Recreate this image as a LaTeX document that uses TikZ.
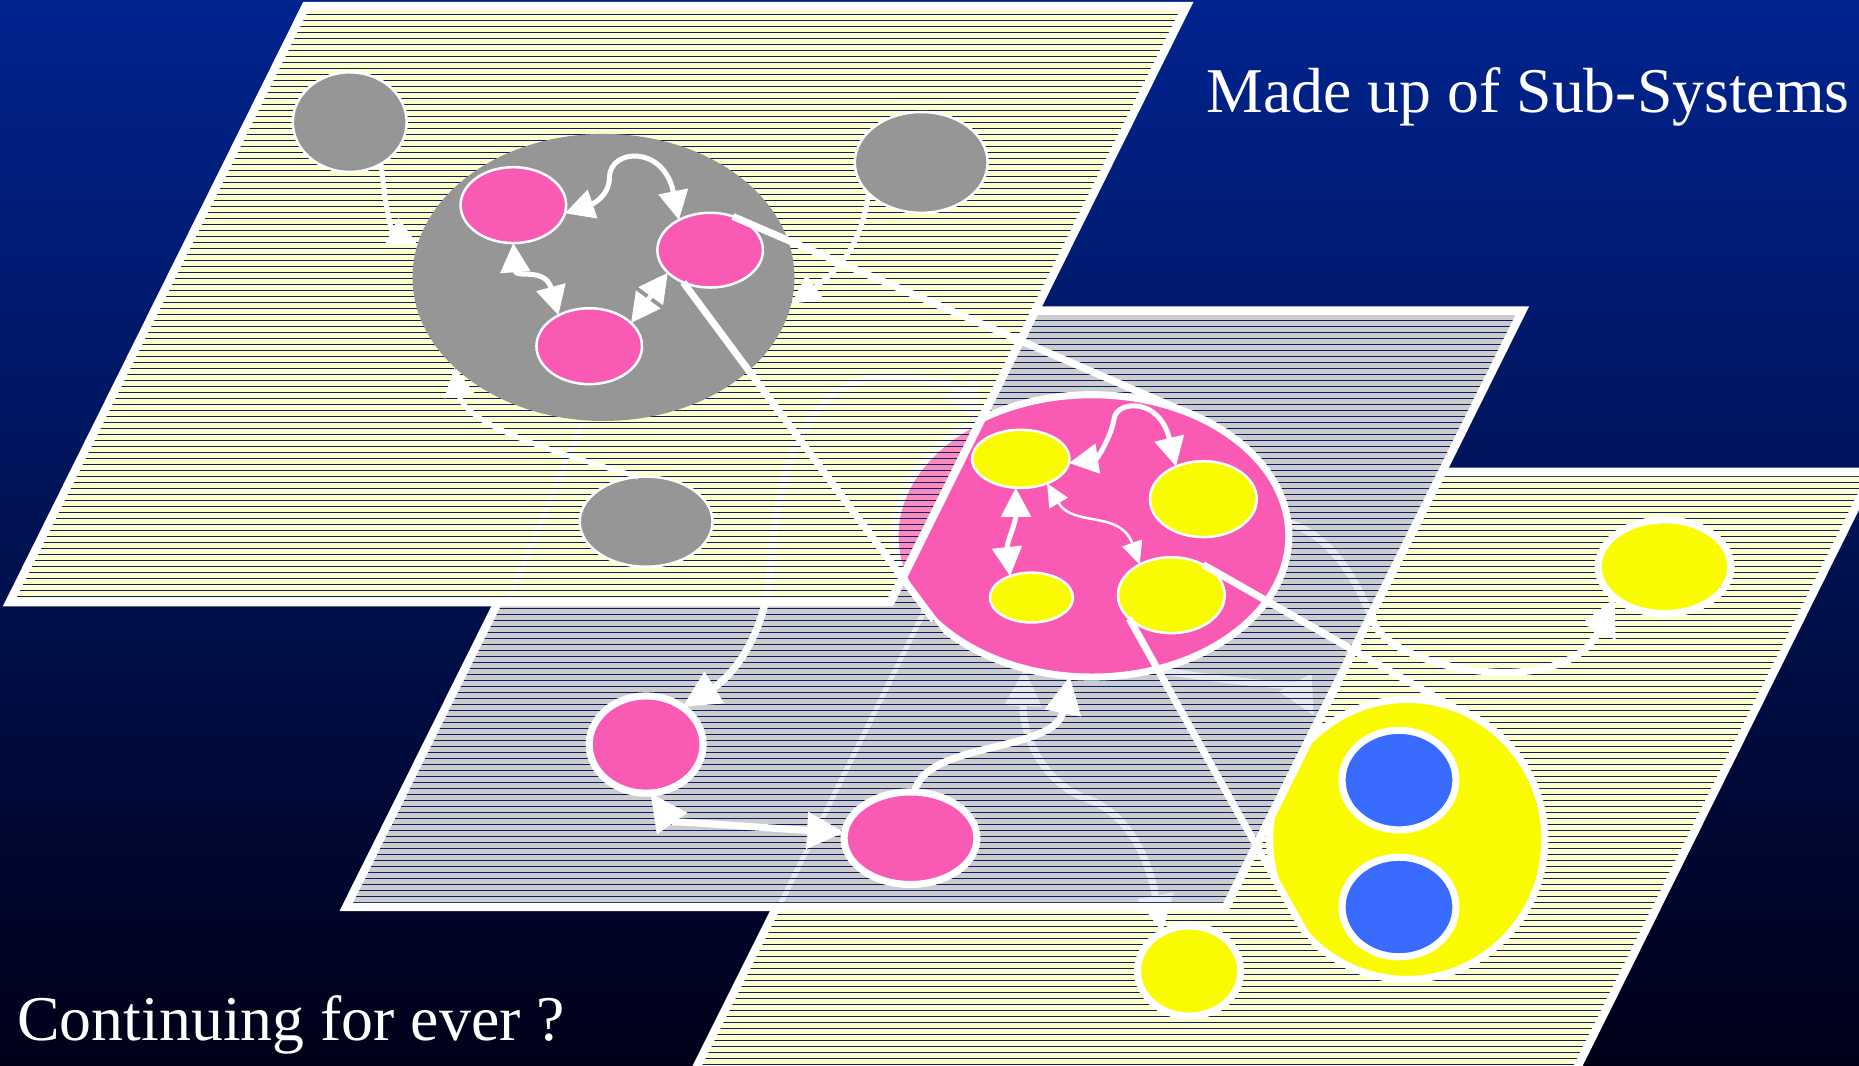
\documentclass[tikz,border=0pt]{standalone}
\usepackage{fontspec}
\setmainfont{Liberation Serif}
\usepackage{tikz}
\usetikzlibrary{arrows.meta,shapes.geometric}
\definecolor{skytop}{HTML}{00248F}
\definecolor{skybot}{HTML}{000018}
\definecolor{hatchblue}{HTML}{0A1E6E}
\definecolor{paper}{HTML}{FFFFCC}
\definecolor{slate}{HTML}{CCCCCC}
\definecolor{rose}{HTML}{F85AB4}
\definecolor{lemon}{HTML}{FAFA00}
\definecolor{azure}{HTML}{3A6BFF}
\definecolor{stone}{HTML}{969696}
\tikzset{
  tipA/.tip={Triangle[length=7pt,width=7pt]},
  tipB/.tip={Triangle[length=9pt,width=8.5pt]},
  tipC/.tip={Triangle[length=5.5pt,width=5pt]},
  hatch/.style={draw=hatchblue,line width=0.28pt},
  rim/.style={draw=white,line width=2pt},
  blob/.style={ellipse,inner sep=0pt,outer sep=0pt},
  dims/.style 2 args={minimum width=#1mm,minimum height=#2mm},
  hairrim/.style={draw=white,line width=0.6pt},
  thickrim/.style={draw=white,line width=1.7pt},
  link/.style={draw=white,line width=1.2pt,-tipA},
  twin/.style={draw=white,line width=1.2pt,tipA-tipA},
  heavy/.style={draw=white,line width=1.7pt,-tipB},
  heavytwin/.style={draw=white,line width=1.7pt,tipB-tipB},
  slim/.style={draw=white,line width=0.6pt,tipC-tipC},
  cone/.style={draw=white,line width=1.7pt},
  faint/.style={draw=white,line width=1.2pt},
  caption/.style={text=white,inner sep=0pt,font=\fontsize{15.3}{18}\selectfont}
}
\pgfdeclarelayer{backdrop}
\pgfdeclarelayer{lthree}
\pgfdeclarelayer{utwo}
\pgfdeclarelayer{otwo}
\pgfdeclarelayer{ltwo}
\pgfdeclarelayer{uone}
\pgfdeclarelayer{oone}
\pgfsetlayers{backdrop,lthree,utwo,otwo,ltwo,uone,oone,main}
% visible parts of the three sheets
\newcommand{\planeone}{(258,5) -- (1001,5) -- (751,508) -- (8,508) -- cycle}
\newcommand{\planetwo}{(873,262) -- (1284,262) -- (1034,765) -- (292,765) -- (420,508) -- (751,508) -- cycle}
\newcommand{\planethree}{(1216,398) -- (1580,398) -- (1330,901) -- (587,901) -- (655,765) -- (1034,765) -- cycle}
\newcommand{\hatchlines}{\foreach \k in {0,...,178}{\draw[hatch] (0,{2+5.06*\k}) -- (1600,{2+5.06*\k});}}

\begin{document}
\begin{tikzpicture}[x=0.01cm,y=-0.01cm]
\useasboundingbox (0,0) rectangle (1568,899);
\begin{pgfonlayer}{backdrop}
\shade[top color=skytop,bottom color=skybot] (0,0) rectangle (1568,899);
\fill[paper] \planethree;
\fill[slate] \planetwo;
\fill[paper] \planeone;
\end{pgfonlayer}

% lowest sheet
\begin{pgfonlayer}{lthree}
\begin{scope}
\clip \planethree;
\hatchlines
\end{scope}
\draw[rim] (1216,398) -- (1580,398) -- (1330,901);
\draw[rim] (655,765) -- (587,901);
\node[blob,dims={8.7}{7.6},fill=lemon,thickrim] (y5) at (1003,819) {};
\node[blob,dims={11.2}{7.9},fill=lemon,thickrim] (y6) at (1404,478) {};
\begin{scope}
\clip (1169,500) -- (1061,716) -- (1164,900) -- (1400,900) -- (1400,500) -- cycle;
\node[blob,dims={23.2}{23.6},fill=lemon,thickrim] (by) at (1187,708) {};
\end{scope}
\node[blob,dims={9.6}{8.4},fill=azure,thickrim] (b1) at (1180,658) {};
\node[blob,dims={9.6}{8.4},fill=azure,thickrim] (b2) at (1180,765) {};
\end{pgfonlayer}

% middle sheet
\begin{pgfonlayer}{ltwo}
\begin{scope}
\clip (400,0) -- (919,700) -- (1200,700) -- (1200,0) -- cycle;
\node[blob,dims={33.2}{23.8},fill=rose,thickrim] (pe) at (921,452) {};
\end{scope}
\node[blob,dims={8.2}{4.9},fill=lemon,hairrim] (y1) at (861,387) {};
\node[blob,dims={9}{6.4},fill=lemon,hairrim] (y2) at (1015,421) {};
\node[blob,dims={7}{4.2},fill=lemon,hairrim] (y3) at (870,504) {};
\node[blob,dims={9}{6.4},fill=lemon,hairrim] (y4) at (988,502) {};
\node[blob,dims={9.6}{8.2},fill=rose,thickrim] (n1) at (545,628) {};
\node[blob,dims={11.2}{7.8},fill=rose,thickrim] (n2) at (768,707) {};
\draw[twin] (y1.-5) .. controls (925,387) and (937,370) .. (940,352) .. controls (943,338) and (978,335) .. (y2.130);
\draw[twin] (y1.-100) .. controls (857,440) and (849,458) .. (y3.135);
\draw[slim] (y1.-43) .. controls (905,445) and (945,430) .. (y4.136);
\draw[heavytwin] (n1.-85) .. controls (565,692) and (640,698) .. (n2.175);
\draw[heavy] (n2.85) .. controls (780,625) and (890,635) .. (pe.-99);
\end{pgfonlayer}

% links seen through the middle sheet
\begin{pgfonlayer}{utwo}
\draw[heavy] (pe.4) .. controls (1130,455) and (1148,500) .. (1160,528) .. controls (1180,565) and (1320,592) .. (y6.212);
\draw[heavytwin] (pe.-117) .. controls (862,620) and (880,660) .. (915,673) .. controls (950,685) and (968,720) .. (y5.125);
\draw[heavy,shorten >=4pt] (pe.-65) .. controls (1040,575) and (1095,580) .. (by.128);
\coordinate (f2) at (658,763);
\draw[faint] (pe.204) -- (f2);
\end{pgfonlayer}
\begin{pgfonlayer}{otwo}
\fill[slate,opacity=0.4] \planetwo;
\begin{scope}
\clip \planetwo;
\hatchlines
\end{scope}
\draw[rim] (873,262) -- (1284,262) -- (1034,765) -- (292,765) -- (420,508);
\end{pgfonlayer}

% top sheet
\node[blob,dims={32.2}{24.2},fill=stone] (bg) at (509,234) {};
\node[blob,dims={9.6}{8.4},fill=stone,hairrim] (g1) at (295,103) {};
\node[blob,dims={11.2}{8.5},fill=stone,hairrim] (g2) at (777,137) {};
\node[blob,dims={11.2}{7.6},fill=stone,hairrim] (g3) at (545,440) {};
\node[blob,dims={8.9}{6.4},fill=rose,hairrim] (p1) at (433,173) {};
\node[blob,dims={8.9}{6.3},fill=rose,hairrim] (p2) at (599,211) {};
\node[blob,dims={8.9}{6.4},fill=rose,hairrim] (p3) at (497,292) {};
\begin{pgfonlayer}{uone}
\draw[heavytwin] (n1.46) .. controls (615,572) and (645,540) .. (650,480) .. controls (654,400) and (680,322) .. (740,319) .. controls (790,316) and (812,330) .. (pe.135);
\coordinate (f1) at (429,506);
\draw[faint] (bg.-98) -- (f1);
\end{pgfonlayer}
\begin{pgfonlayer}{oone}
\fill[paper,opacity=0.3] \planeone;
\begin{scope}
\clip \planeone;
\hatchlines
\end{scope}
\draw[rim] \planeone;
\end{pgfonlayer}
\draw[link] (g1.-53) .. controls (325,175) and (330,195) .. (bg.170);
\draw[link] (g2.210) .. controls (728,200) and (712,225) .. (bg.-8);
\draw[link] (g3.100) .. controls (480,385) and (392,360) .. (bg.211);
\draw[twin] (p1.-9) .. controls (500,172) and (514,165) .. (514,150) .. controls (514,125) and (560,122) .. (p2.136);
\draw[twin] (p1.-90) .. controls (435,235) and (460,225) .. (p3.135);
\draw[twin] (p3.29) -- (p2.208);

% zoom cones
\draw[cone] (p2.56) -- (pe.55);
\draw[cone] (p2.230) -- (pe.208);
\draw[cone] (y4.44) -- (by.70);
\draw[cone] (y4.209) -- (by.223);

\node[caption,anchor=base west] (title) at (1017,95) {Made up of Sub-Systems};
\node[caption,anchor=base west] (query) at (14,878) {Continuing for ever ?};
\end{tikzpicture}
\end{document}
